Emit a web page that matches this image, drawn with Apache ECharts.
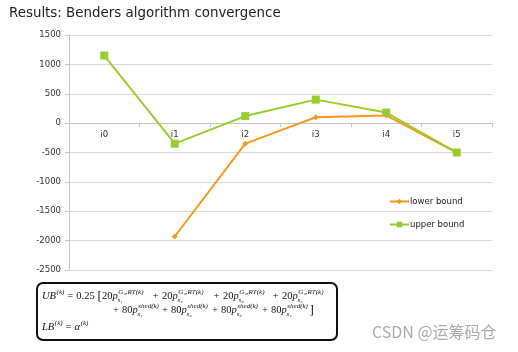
<!DOCTYPE html>
<html><head><meta charset="utf-8">
<script src="https://cdn.jsdelivr.net/npm/echarts@6/dist/echarts.min.js"></script>
<style>html,body{margin:0;padding:0;background:#fff}#c{width:518px;height:352px}</style>
</head><body><div id="c"></div>
<script>
// ---- data ----
const categories = ['i0', 'i1', 'i2', 'i3', 'i4', 'i5'];
const lowerBound = ['-', -1930, -350, 100, 130, -500];
const upperBound = [1150, -350, 120, 400, 180, -500];
const seriesNames = ['lower bound', 'upper bound'];
const yMin = -2500, yMax = 1500, yInterval = 500;
const titleText = 'Results: Benders algorithm convergence';
const watermarkText = 'CSDN @运筹码仓';

// ---- layout constants ----
const W = 518, H = 352;
const gridTop = 35, gridBottom = 82, gridLeft = 69, gridRight = 26;
const plotH = H - gridTop - gridBottom;
const zeroOffset = -((0 - yMin) / (yMax - yMin)) * plotH;

// ---- formula layout helper ----
const mctx = document.createElement('canvas').getContext('2d');
function tw(text, font) { mctx.font = font; return mctx.measureText(text).width; }
const SERIF = "'Liberation Serif', 'DejaVu Serif', serif";
const F = 10.5, S = 7;
function fnt(size, it) { return (it ? 'italic ' : '') + size + 'px ' + SERIF; }
function txt(x, baseline, text, font) {
  const size = parseFloat(font.replace('italic ', ''));
  return { type: 'text', x: x, y: baseline - 0.3 * size, z: 100,
    style: { text: text, font: font, fill: '#111', align: 'left', verticalAlign: 'middle' } };
}
function layoutSeq(x, y, toks, out) {
  for (const tk of toks) {
    if (tk.gap !== undefined) { x += tk.gap; continue; }
    if (tk.t !== undefined) {
      const f = fnt(tk.size || F, tk.i);
      out.push(txt(x, y + (tk.dy || 0), tk.t, f));
      x += tw(tk.t, f);
    } else {
      let adv = 0;
      if (tk.sup) {
        const f = fnt(S, true);
        out.push(txt(x + 0.6, y - 5.2, tk.sup, f));
        adv = Math.max(adv, tw(tk.sup, f) + 0.6);
      }
      if (tk.sub) {
        const f = fnt(S, true);
        out.push(txt(x - 0.3, y + 2.8, tk.sub, f));
        adv = Math.max(adv, tw(tk.sub, f));
      }
      x += adv;
    }
  }
  return x;
}
const subs = ['₁', '₂', '₃', '₄'];
const formula = [];
const B1 = 299, B2 = 313, B3 = 330;
// line 1
layoutSeq(42, B1, [{ t: 'UB', i: true }, { sup: '(k)' }, { gap: 3 }, { t: '=' }, { gap: 3 }, { t: '0.25' }], formula);
formula.push(txt(97.5, B1 + 1, '[', fnt(13, false)));
const anchors1 = [102, 162, 223, 282];
anchors1.forEach((ax, k) => {
  if (k > 0) formula.push(txt(ax - 9.5, B1, '+', fnt(F, false)));
  layoutSeq(ax, B1, [{ t: '20' }, { t: 'p', i: true }, { sup: 'G₂,RT(k)', sub: 's' + subs[k] }], formula);
});
// line 2
const anchors2 = [122, 171, 221, 271];
let endX = 0;
anchors2.forEach((ax, k) => {
  formula.push(txt(ax - 9, B2, '+', fnt(F, false)));
  endX = layoutSeq(ax, B2, [{ t: '80' }, { t: 'p', i: true }, { sup: 'shed(k)', sub: 's' + subs[k] }], formula);
});
formula.push(txt(endX + 1.5, B2 + 1, ']', fnt(13, false)));
// line 3
layoutSeq(42, B3, [{ t: 'LB', i: true }, { sup: '(k)' }, { gap: 3 }, { t: '=' }, { gap: 3 }, { t: 'α', i: true }, { sup: '(k)' }], formula);

const chart = echarts.init(document.getElementById('c'), null, { renderer: 'canvas' });
const SANS = "'DejaVu Sans', Verdana, sans-serif";
chart.setOption({
  animation: false,
  backgroundColor: '#fff',
  title: { text: titleText, left: 4, top: 2,
    textStyle: { fontFamily: SANS, fontSize: 13.4, fontWeight: 'normal', color: '#222' } },
  legend: {
    orient: 'vertical', left: 389, top: 197, itemGap: 14, itemWidth: 19, itemHeight: 7, padding: 0,
    textStyle: { fontFamily: SANS, fontSize: 8.5, color: '#222', padding: [0, 0, 0, -4] },
    data: seriesNames
  },
  grid: { left: gridLeft, right: gridRight, top: gridTop, bottom: gridBottom, containLabel: false },
  xAxis: {
    type: 'category', data: categories, boundaryGap: true, offset: zeroOffset,
    axisLine: { onZero: false, lineStyle: { color: '#c4c4c4', width: 1 } },
    axisTick: { show: true, length: 4, lineStyle: { color: '#c4c4c4' } },
    axisLabel: { fontFamily: SANS, fontSize: 8.5, color: '#333', margin: 7 },
    splitLine: { show: false }
  },
  yAxis: {
    type: 'value', min: yMin, max: yMax, interval: yInterval,
    axisLine: { show: true, lineStyle: { color: '#c4c4c4' } },
    axisTick: { show: true, length: 4, lineStyle: { color: '#c4c4c4' } },
    axisLabel: { fontFamily: SANS, fontSize: 8.5, color: '#333', margin: 8,
      formatter: function (v) { return String(v); } },
    splitLine: { show: true, lineStyle: { color: '#d9d9d9', width: 1 } }
  },
  series: [
    { name: seriesNames[0], type: 'line', data: lowerBound, symbol: 'diamond', symbolSize: 6,
      lineStyle: { color: '#F59A1B', width: 2 }, itemStyle: { color: '#F59A1B' }, z: 2 },
    { name: seriesNames[1], type: 'line', data: upperBound, symbol: 'rect', symbolSize: 8,
      lineStyle: { color: '#99CC2E', width: 2 }, itemStyle: { color: '#99CC2E' }, z: 3 }
  ],
  graphic: [
    { type: 'rect', shape: { x: 37, y: 283, width: 300, height: 57, r: 6 },
      style: { fill: '#fff', stroke: '#111', lineWidth: 2 }, z: 90 },
    ...formula,
    { type: 'text', x: 372, y: 332, z: 100,
      style: { text: watermarkText, font: "16px 'Noto Sans CJK SC', 'Noto Sans', sans-serif",
        fill: '#ababab', align: 'left', verticalAlign: 'middle' } }
  ]
});
</script></body></html>
